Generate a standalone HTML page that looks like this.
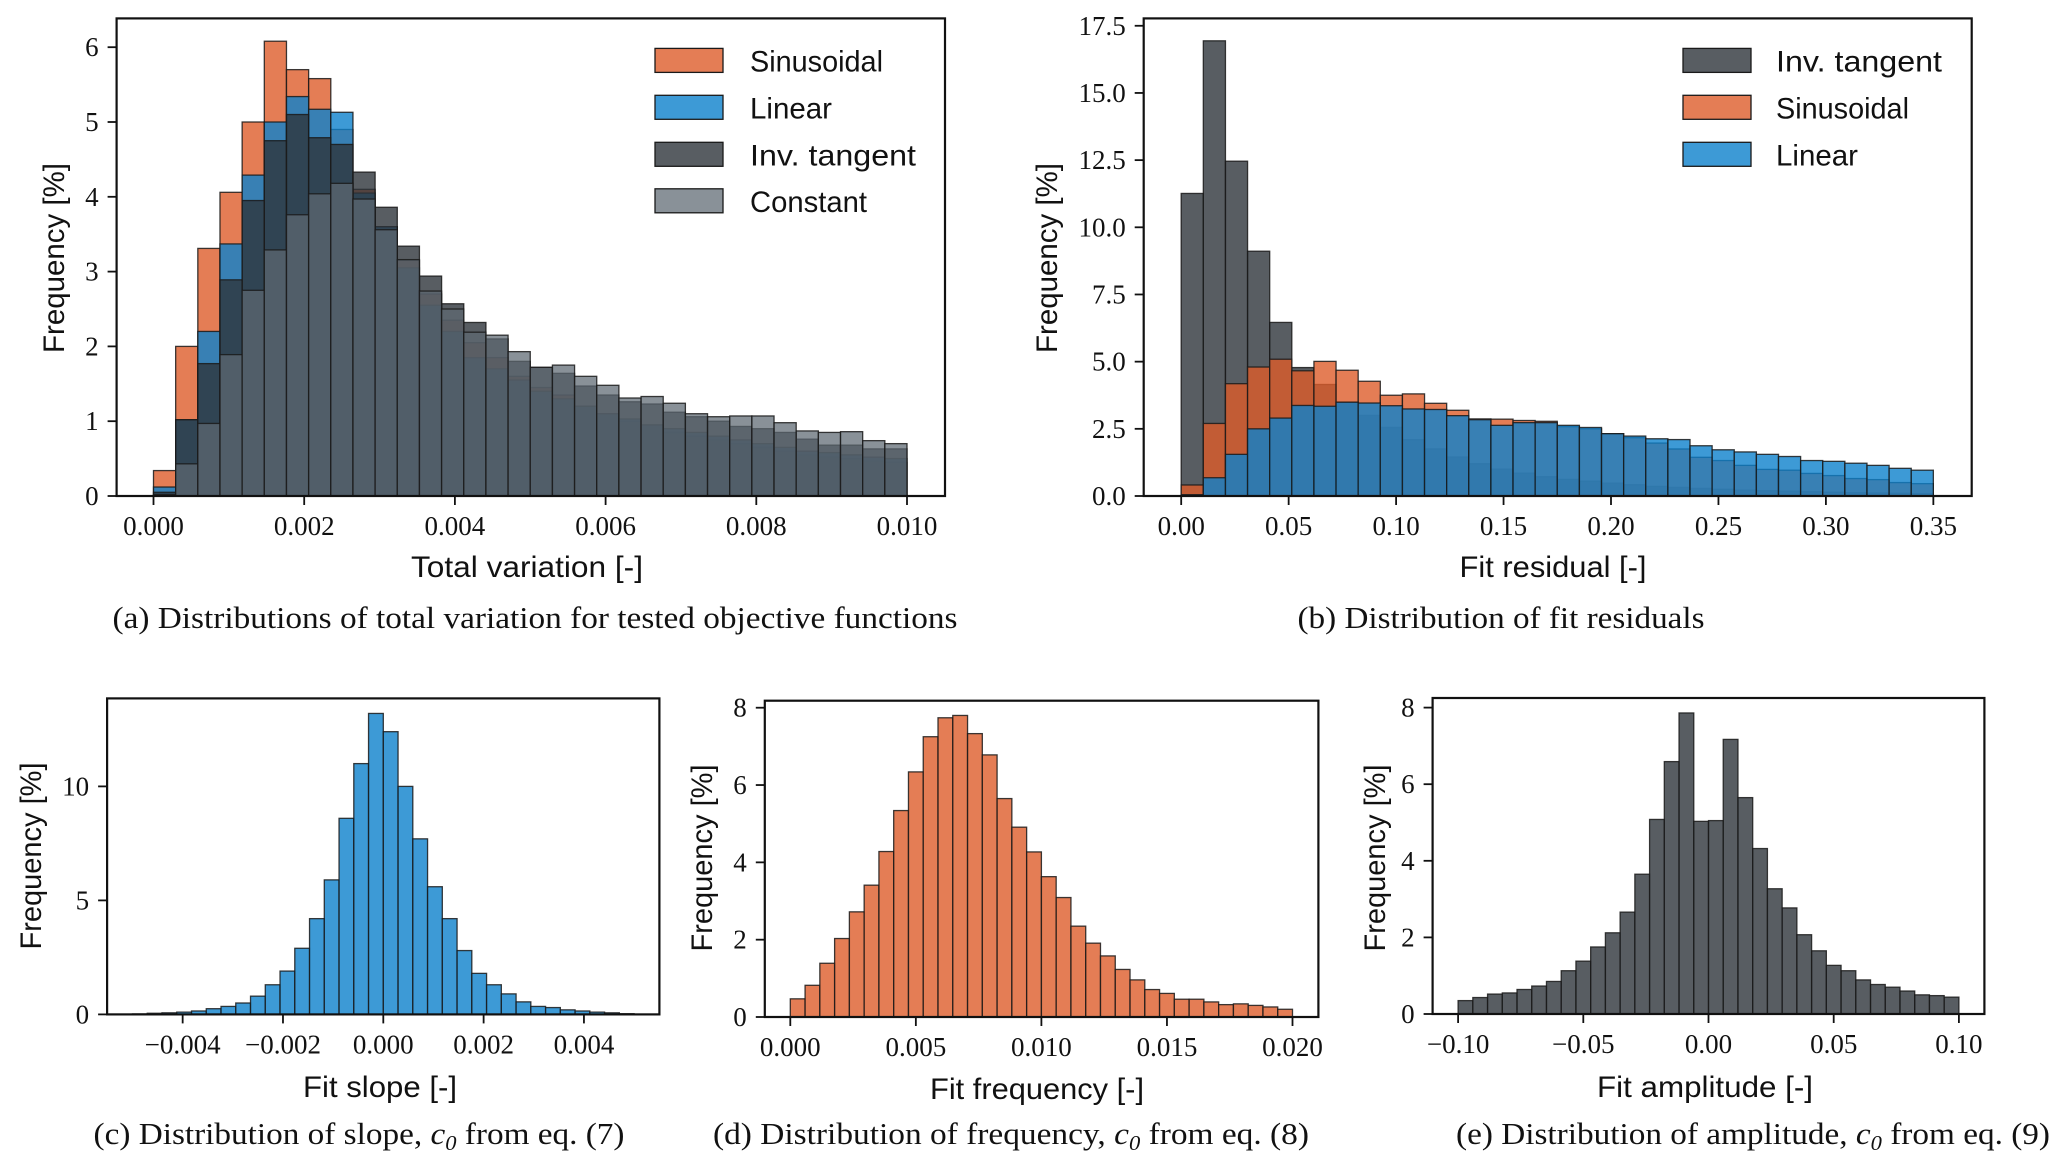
<!DOCTYPE html>
<html><head><meta charset="utf-8"><style>
html,body{margin:0;padding:0;background:#fff;}
svg{display:block;}
.tk{font-family:"Liberation Serif",serif;font-size:27px;fill:#111;}
.lb{font-family:"Liberation Sans",sans-serif;font-size:30px;fill:#111;}
.cap{font-family:"Liberation Serif",serif;font-size:31px;fill:#111;}
</style></head><body>
<svg id="fig" width="2067" height="1168" viewBox="0 0 2067 1168" xmlns="http://www.w3.org/2000/svg">
<rect width="2067" height="1168" fill="#fff"/>
</svg>
<script>
// ---- Chart (a): total variation, 34 bins 0..0.010
const aSin = [0.34,2.0,3.31,4.06,5.0,6.08,5.7,5.58,4.9,4.1,3.6,3.15,2.7,2.35,2.05,1.85,1.6,1.45,1.35,1.2,1.1,1.0,0.95,0.85,0.8,0.75,0.7,0.65,0.6,0.55,0.52,0.5,0.47,0.45];
const aLin = [0.12,1.02,2.2,3.37,4.29,5.0,5.34,5.17,5.13,4.05,3.6,3.05,2.55,2.2,1.85,1.7,1.55,1.4,1.3,1.2,1.1,1.03,0.95,0.9,0.85,0.8,0.75,0.7,0.65,0.6,0.58,0.55,0.52,0.5];
const aTan = [0.05,1.02,1.77,2.89,3.95,4.75,5.1,4.79,4.7,4.33,3.86,3.34,2.94,2.57,2.32,2.1,1.8,1.72,1.64,1.47,1.35,1.26,1.23,1.12,1.06,1.0,0.93,0.9,0.85,0.76,0.68,0.68,0.63,0.63];
const aCon = [0.02,0.43,0.97,1.89,2.75,3.29,3.76,4.04,4.18,3.97,3.56,3.16,2.74,2.5,2.19,2.15,1.93,1.72,1.75,1.6,1.48,1.31,1.33,1.24,1.1,1.06,1.07,1.07,0.98,0.87,0.85,0.86,0.74,0.7];
const aXTicks = [0,0.002,0.004,0.006,0.008,0.010];
const aXLabels = ["0.000","0.002","0.004","0.006","0.008","0.010"];
const aYTicks = [0,1,2,3,4,5,6];
// ---- Chart (b): fit residuals, 34 bins 0..0.35
const bTan = [11.26,16.94,12.46,9.11,6.46,4.78,4.15,3.5,3.0,2.55,2.1,1.75,1.45,1.2,1.0,0.85,0.72,0.62,0.55,0.48,0.42,0.36,0.32,0.28,0.25,0.22,0.2,0.18,0.16,0.14,0.12,0.11,0.1,0.09];
const bSin = [0.41,2.7,4.18,4.8,5.09,4.66,5.01,4.68,4.27,3.75,3.8,3.45,3.19,2.87,2.86,2.81,2.78,2.58,2.5,2.32,2.17,1.97,1.75,1.44,1.32,1.14,0.99,0.96,0.84,0.76,0.65,0.61,0.5,0.46];
const bLin = [0.05,0.68,1.55,2.5,2.9,3.37,3.34,3.49,3.46,3.36,3.24,3.22,2.99,2.84,2.63,2.73,2.73,2.63,2.55,2.32,2.23,2.13,2.1,1.87,1.72,1.64,1.55,1.47,1.32,1.29,1.22,1.14,1.03,0.96];
const bXTicks = [0,0.05,0.10,0.15,0.20,0.25,0.30,0.35];
const bXLabels = ["0.00","0.05","0.10","0.15","0.20","0.25","0.30","0.35"];
const bYTicks = [0,2.5,5,7.5,10,12.5,15,17.5];
const bYLabels = ["0.0","2.5","5.0","7.5","10.0","12.5","15.0","17.5"];
// ---- Chart (c): slope, 34 bins -0.005..0.005
const cVals = [0.02,0.05,0.07,0.1,0.15,0.25,0.35,0.5,0.8,1.3,1.9,2.9,4.2,5.9,8.6,11.0,13.2,12.4,10.0,7.7,5.6,4.2,2.8,1.8,1.3,0.9,0.55,0.35,0.3,0.2,0.15,0.1,0.07,0.03];
const cXTicks = [-0.004,-0.002,0,0.002,0.004];
const cXLabels = ["\u22120.004","\u22120.002","0.000","0.002","0.004"];
const cYTicks = [0,5,10];
// ---- Chart (d): frequency, 34 bins 0..0.020
const dVals = [0.47,0.82,1.39,2.03,2.72,3.41,4.28,5.34,6.34,7.25,7.74,7.8,7.33,6.78,5.65,4.91,4.27,3.63,3.09,2.35,1.91,1.58,1.23,0.96,0.71,0.61,0.46,0.46,0.39,0.32,0.34,0.3,0.26,0.2];
const dXTicks = [0,0.005,0.010,0.015,0.020];
const dXLabels = ["0.000","0.005","0.010","0.015","0.020"];
const dYTicks = [0,2,4,6,8];
// ---- Chart (e): amplitude, 34 bins -0.10..0.10
const eVals = [0.35,0.43,0.52,0.55,0.64,0.73,0.85,1.13,1.38,1.75,2.12,2.66,3.65,5.08,6.59,7.86,5.03,5.05,7.17,5.65,4.32,3.27,2.77,2.07,1.65,1.27,1.13,0.89,0.77,0.7,0.6,0.5,0.48,0.44];
const eXTicks = [-0.10,-0.05,0,0.05,0.10];
const eXLabels = ["\u22120.10","\u22120.05","0.00","0.05","0.10"];
const eYTicks = [0,2,4,6,8];

const NS = "http://www.w3.org/2000/svg";
const fig = document.getElementById('fig');
function mk(tag, attrs, parent){
  const e = document.createElementNS(NS, tag);
  for (const k in attrs) e.setAttribute(k, attrs[k]);
  (parent||fig).appendChild(e);
  return e;
}
const ORANGE = "rgb(221,92,42)", BLUE = "rgb(12,129,204)", DARK = "rgb(46,52,59)", CONST = "rgb(93,104,114)";

function chart(o){
  const g = mk('g', {});
  
  
  const xs = v => o.x0 + (v - o.dx0) * o.kx;
  const ys = v => o.y0 - v * o.ky;
  o.series.forEach(s => {
    const sg = mk('g', {}, g);
    
    
    const n = s.vals.length, w = (o.hi - o.lo) / n;
    s.vals.forEach((v, i) => {
      const xa = xs(o.lo + i * w), xb = xs(o.lo + (i + 1) * w);
      const r = mk('rect', {x: xa, y: ys(v), width: xb - xa, height: v * o.ky,
        fill: s.color, 'fill-opacity': s.alpha, stroke: '#1a1a1a', 'stroke-opacity': 0.85, 'stroke-width': 1.3}, sg);
      
      
    });
  });
  const fr = mk('rect', {x: o.L, y: o.T, width: o.R - o.L, height: o.B - o.T, fill: 'none', stroke: '#111', 'stroke-width': 2.2}, g);
  
  
  o.xt.forEach((t, i) => {
    const x = xs(t);
    mk('line', {x1: x, x2: x, y1: o.B, y2: o.B + 9, stroke: '#111', 'stroke-width': 1.8}, g);
    const tx = mk('text', {x: x, y: o.B + 39, 'text-anchor': 'middle', class: 'tk'}, g);
    tx.textContent = o.xl[i];
    
    
  });
  o.yt.forEach((t, i) => {
    const y = ys(t);
    mk('line', {x1: o.L - 9, x2: o.L, y1: y, y2: y, stroke: '#111', 'stroke-width': 1.8}, g);
    const tx = mk('text', {x: o.L - 18, y: y + 9, 'text-anchor': 'end', class: 'tk'}, g);
    tx.textContent = o.yl ? o.yl[i] : String(t);
    
    
  });
  const xl = mk('text', {x: o.xlx, y: o.xly, 'text-anchor': 'middle', class: 'lb', textLength: o.xlw, lengthAdjust: 'spacingAndGlyphs'}, g);
  xl.textContent = o.xlabel;
  
  
  const yl = mk('text', {x: 0, y: 0, 'text-anchor': 'middle', class: 'lb', textLength: o.ylw, lengthAdjust: 'spacingAndGlyphs',
     transform: 'translate(' + o.ylx + ',' + o.yly + ') rotate(-90)'}, g);
  yl.textContent = 'Frequency [%]';
  
  
  if (o.legend) {
    const lg = mk('g', {}, g);
    
    
    o.legend.items.forEach((it, i) => {
      const cy = o.legend.rows[i];
      mk('rect', {x: o.legend.px, y: cy - 12, width: 68, height: 24, fill: it.color, 'fill-opacity': it.alpha, stroke: '#1a1a1a', 'stroke-width': 1.3}, lg);
      const t = mk('text', {x: o.legend.tx, y: cy + 11, class: 'lb', textLength: it.w, lengthAdjust: 'spacingAndGlyphs'}, lg);
      t.textContent = it.label;
      
      
    });
  }
}
function caption(x, y, w, parts, name){
  const t = mk('text', {x: x, y: y, 'text-anchor': 'middle', class: 'cap', textLength: w, lengthAdjust: 'spacingAndGlyphs'});
  
  
  parts.forEach(p => {
    const s = mk('tspan', p.attrs || {}, t);
    s.textContent = p.t;
  });
}

chart({name: 'chart-total-variation', L: 116.6, R: 945, T: 18.4, B: 496, x0: 153.5, dx0: 0, kx: 75350, y0: 496, ky: 74.8,
  lo: 0, hi: 0.010, xt: aXTicks, xl: aXLabels, yt: aYTicks,
  series: [{name: 'sinusoidal', vals: aSin, color: ORANGE, alpha: 0.8},
           {name: 'linear', vals: aLin, color: BLUE, alpha: 0.8},
           {name: 'inv-tangent', vals: aTan, color: DARK, alpha: 0.8},
           {name: 'constant', vals: aCon, color: CONST, alpha: 0.73}],
  xlabel: 'Total variation [-]', xlx: 527, xly: 577, xlw: 232, ylx: 64, yly: 258, ylw: 190,
  legend: {px: 655, tx: 750, rows: [60.4, 107.3, 154.3, 200.8],
    items: [{label: 'Sinusoidal', color: ORANGE, alpha: 0.8, w: 133},
            {label: 'Linear', color: BLUE, alpha: 0.8, w: 82},
            {label: 'Inv. tangent', color: DARK, alpha: 0.8, w: 166},
            {label: 'Constant', color: CONST, alpha: 0.73, w: 117}]}});

chart({name: 'chart-fit-residual', L: 1143.7, R: 1971.7, T: 18.4, B: 496, x0: 1181.2, dx0: 0, kx: 2149, y0: 496, ky: 26.87,
  lo: 0, hi: 0.35, xt: bXTicks, xl: bXLabels, yt: bYTicks, yl: bYLabels,
  series: [{name: 'inv-tangent', vals: bTan, color: DARK, alpha: 0.8},
           {name: 'sinusoidal', vals: bSin, color: ORANGE, alpha: 0.8},
           {name: 'linear', vals: bLin, color: BLUE, alpha: 0.8}],
  xlabel: 'Fit residual [-]', xlx: 1553, xly: 577, xlw: 187, ylx: 1057, yly: 258, ylw: 190,
  legend: {px: 1683, tx: 1776, rows: [60.4, 107.3, 154.3],
    items: [{label: 'Inv. tangent', color: DARK, alpha: 0.8, w: 166},
            {label: 'Sinusoidal', color: ORANGE, alpha: 0.8, w: 133},
            {label: 'Linear', color: BLUE, alpha: 0.8, w: 82}]}});

chart({name: 'chart-fit-slope', L: 107.1, R: 659.4, T: 698.4, B: 1014.4, x0: 383.3, dx0: 0, kx: 50160, y0: 1014.4, ky: 22.8,
  lo: -0.005, hi: 0.005, xt: cXTicks, xl: cXLabels, yt: cYTicks,
  series: [{name: 'slope', vals: cVals, color: BLUE, alpha: 0.8}],
  xlabel: 'Fit slope [-]', xlx: 380, xly: 1097, xlw: 154, ylx: 41, yly: 856, ylw: 187});

chart({name: 'chart-fit-frequency', L: 764.8, R: 1318.4, T: 700.7, B: 1017, x0: 790.3, dx0: 0, kx: 25110, y0: 1017, ky: 38.66,
  lo: 0, hi: 0.020, xt: dXTicks, xl: dXLabels, yt: dYTicks,
  series: [{name: 'frequency', vals: dVals, color: ORANGE, alpha: 0.8}],
  xlabel: 'Fit frequency [-]', xlx: 1037, xly: 1099, xlw: 214, ylx: 712, yly: 858, ylw: 187});

chart({name: 'chart-fit-amplitude', L: 1432.6, R: 1984.4, T: 698, B: 1014, x0: 1708.5, dx0: 0, kx: 2504, y0: 1014, ky: 38.3,
  lo: -0.10, hi: 0.10, xt: eXTicks, xl: eXLabels, yt: eYTicks,
  series: [{name: 'amplitude', vals: eVals, color: DARK, alpha: 0.8}],
  xlabel: 'Fit amplitude [-]', xlx: 1705, xly: 1097, xlw: 216, ylx: 1385, yly: 858, ylw: 187});

caption(535, 628, 845, [{t: '(a) Distributions of total variation for tested objective functions'}], 'caption-a');
caption(1501, 628, 407, [{t: '(b) Distribution of fit residuals'}], 'caption-b');
const it = {'font-style': 'italic'};
const sub = {'font-style': 'italic', 'font-size': '21px', dy: '6'};
const back = {dy: '-6'};
caption(359, 1144, 531, [{t: '(c) Distribution of slope, '}, {t: 'c', attrs: it}, {t: '0', attrs: sub}, {t: ' from eq. (7)', attrs: back}], 'caption-c');
caption(1011, 1144, 596, [{t: '(d) Distribution of frequency, '}, {t: 'c', attrs: it}, {t: '0', attrs: sub}, {t: ' from eq. (8)', attrs: back}], 'caption-d');
caption(1753, 1144, 594, [{t: '(e) Distribution of amplitude, '}, {t: 'c', attrs: it}, {t: '0', attrs: sub}, {t: ' from eq. (9)', attrs: back}], 'caption-e');
</script>
</body></html>
